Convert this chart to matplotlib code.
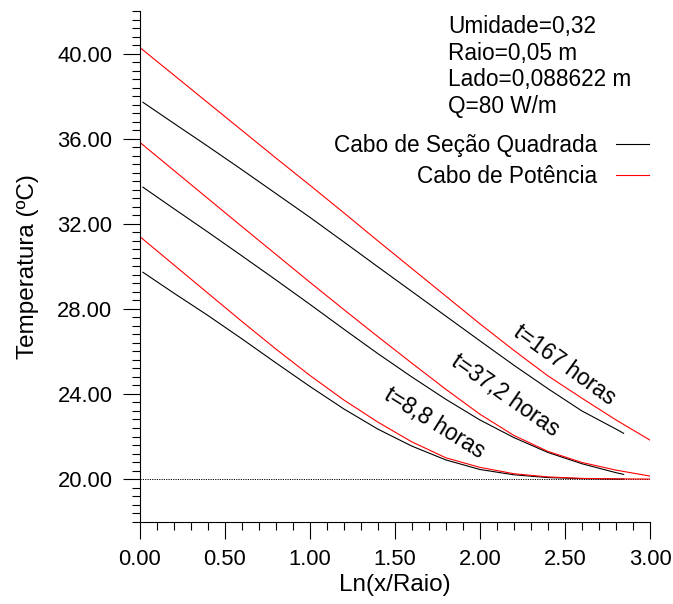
import matplotlib
matplotlib.use("Agg")
import matplotlib.pyplot as plt
from matplotlib.ticker import MultipleLocator, FormatStrFormatter

plt.rcParams['font.family'] = ['Liberation Sans', 'DejaVu Sans']

# Cabo de Potencia (red)
x_pot = [0.0, 0.2, 0.4, 0.6, 0.8, 1.0, 1.2, 1.4, 1.6, 1.8, 2.0, 2.2, 2.4, 2.6, 2.8, 3.0]
T_pot_167 = [40.30, 39.00, 37.70, 36.40, 35.10, 33.82, 32.52, 31.20, 29.90, 28.60,
             27.30, 26.05, 24.85, 23.80, 22.78, 21.83]
T_pot_37 = [35.84, 34.52, 33.20, 31.88, 30.57, 29.26, 27.97, 26.70, 25.45, 24.22,
            23.05, 22.05, 21.30, 20.78, 20.42, 20.14]
T_pot_8 = [31.41, 30.08, 28.75, 27.42, 26.12, 24.88, 23.72, 22.68, 21.75, 21.00,
           20.55, 20.25, 20.10, 20.03, 20.01, 20.00]

# Cabo de Secao Quadrada (black)
x_quad = [0.02, 0.2, 0.4, 0.6, 0.8, 1.0, 1.2, 1.4, 1.6, 1.8, 2.0, 2.2, 2.4, 2.6, 2.8, 2.845]
T_quad_167 = [37.71, 36.73, 35.65, 34.55, 33.43, 32.31, 31.15, 29.98, 28.82, 27.66,
              26.50, 25.35, 24.25, 23.20, 22.35, 22.15]
T_quad_37 = [33.72, 32.72, 31.62, 30.50, 29.37, 28.22, 27.05, 25.90, 24.80, 23.75,
             22.78, 21.95, 21.25, 20.72, 20.30, 20.22]
T_quad_8 = [29.72, 28.75, 27.70, 26.60, 25.47, 24.36, 23.30, 22.35, 21.55, 20.90,
            20.45, 20.20, 20.07, 20.02, 20.00, 20.00]

T_ambiente = 20.0
info_lines = ["Umidade=0,32", "Raio=0,05 m", "Lado=0,088622 m", "Q=80 W/m"]
curve_labels = ["t=167 horas", "t=37,2 horas", "t=8,8 horas"]
label_pos = [(2.50, 25.35, -36), (2.15, 23.94, -35), (1.73, 22.64, -32)]

W, H = 673, 604
fig = plt.figure(figsize=(W / 100, H / 100), dpi=100)
ax = fig.add_axes([139.5 / W, 1 - 521.6 / H, 510.5 / W, 510.6 / H])

lw = 0.8
ax.plot([0, 3], [T_ambiente, T_ambiente], color='k', lw=0.7, ls=(0, (1.2, 1.2)))
l_quad, = ax.plot(x_quad, T_quad_167, color='k', lw=lw, label='Cabo de Seção Quadrada')
ax.plot(x_quad, T_quad_37, color='k', lw=lw)
ax.plot(x_quad, T_quad_8, color='k', lw=lw)
l_pot, = ax.plot(x_pot, T_pot_167, color='red', lw=lw, label='Cabo de Potência')
ax.plot(x_pot, T_pot_37, color='red', lw=lw)
ax.plot(x_pot, T_pot_8, color='red', lw=lw)

ax.set_xlim(0, 3)
ax.set_ylim(18, 42)
ax.spines['top'].set_visible(False)
ax.spines['right'].set_visible(False)
ax.spines['left'].set_linewidth(0.8)
ax.spines['bottom'].set_linewidth(0.8)

ax.xaxis.set_major_locator(MultipleLocator(0.5))
ax.xaxis.set_minor_locator(MultipleLocator(0.1))
ax.yaxis.set_major_locator(MultipleLocator(4))
ax.yaxis.set_minor_locator(MultipleLocator(0.4))
ax.xaxis.set_major_formatter(FormatStrFormatter('%.2f'))
ax.yaxis.set_major_formatter(FormatStrFormatter('%.2f'))
ax.tick_params(which='major', direction='out', length=12.5, width=0.8, pad=7, labelsize=15.8)
ax.tick_params(which='minor', direction='out', length=6, width=0.8)

ax.set_xlabel('Ln(x/Raio)', fontsize=17.5, labelpad=3)
ax.set_ylabel('Temperatura (ºC)', fontsize=17.5, labelpad=13)

for txt, (xt, yt, rot) in zip(curve_labels, label_pos):
    ax.text(xt, yt, txt, fontsize=16.3, rotation=rot, rotation_mode='anchor',
            ha='center', va='center')

for i, line in enumerate(info_lines):
    fig.text(448 / W, 1 - (26.7 + 26.6 * i) / H, line, fontsize=16.3,
             ha='left', va='center')

ax.legend(handles=[l_quad, l_pot], markerfirst=False, frameon=False,
          loc='upper right', bbox_to_anchor=(649 / W, 1 - 134 / H),
          bbox_transform=fig.transFigure, fontsize=16.3, borderpad=0,
          borderaxespad=0, handlelength=1.46, handletextpad=0.84,
          labelspacing=0.35)

fig.savefig('out.png', dpi=100)
plt.close(fig)
